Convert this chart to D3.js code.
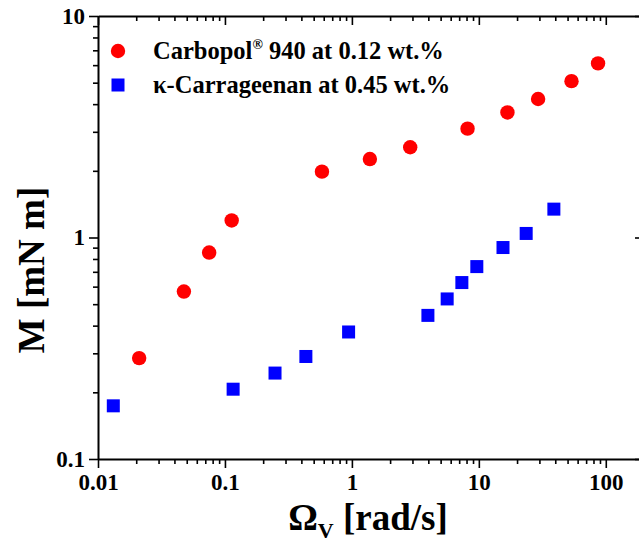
<!DOCTYPE html>
<html>
<head>
<meta charset="utf-8">
<script src="https://cdn.jsdelivr.net/npm/d3@7"></script>
<style>
  html, body { margin: 0; padding: 0; background: #fff; }
  svg { display: block; }
  text { font-family: "Liberation Serif", "Times New Roman", serif; font-weight: bold; fill: #000; }
</style>
</head>
<body>
<svg id="chart" width="639" height="542"></svg>
<script>
// Torque M versus vane angular velocity for two gels
const carbopolOmega = [0.0211, 0.0475, 0.0751, 0.113, 0.581, 1.386, 2.88, 8.15, 16.8, 29.3, 53.7, 86.9];
const carbopolM     = [0.2855, 0.570, 0.855, 1.194, 1.983, 2.26, 2.555, 3.10, 3.67, 4.22, 5.08, 6.11];

const carrageenanOmega = [0.0132, 0.116, 0.248, 0.434, 0.942, 3.97, 5.63, 7.35, 9.64, 15.5, 23.6, 39.0];
const carrageenanM     = [0.1738, 0.2066, 0.2443, 0.2903, 0.3745, 0.445, 0.528, 0.626, 0.739, 0.901, 1.043, 1.343];

const xTickValues = [0.01, 0.1, 1, 10, 100];
const xTickLabels = ["0.01", "0.1", "1", "10", "100"];
const yTickValues = [0.1, 1, 10];
const yTickLabels = ["0.1", "1", "10"];

const legendLabels = ["Carbopol", "κ-Carrageenan at 0.45 wt.%"];

const svg = d3.select("#chart");
const plotLeft = 98, plotTop = 16, plotBottom = 459, plotRight = 644;
const majorLen = 9, minorLen = 5;

const x = d3.scaleLog().domain([0.01, 200]).range([plotLeft, plotRight]);
const y = d3.scaleLog().domain([0.1, 10]).range([plotBottom, plotTop]);

// minor ticks: 2..9 within each decade
function minorTicks(lo, hi) {
  const out = [];
  for (let d = lo; d < hi; d *= 10) {
    for (let k = 2; k <= 9; k++) { const v = d * k; if (v <= hi * 1.0001) out.push(v); }
  }
  return out;
}
const xMinor = minorTicks(0.01, 200);
const yMinor = minorTicks(0.1, 10);

function styleAxis(g) {
  g.selectAll("path.domain").attr("stroke", "#000").attr("stroke-width", 2);
  g.selectAll(".tick line").attr("stroke", "#000").attr("stroke-width", 1.6);
}
function styleLabels(g) {
  g.selectAll(".tick text").attr("font-size", 23).attr("font-family", "Liberation Serif")
    .attr("font-weight", "bold").attr("fill", "#000");
}

// bottom axis (major with labels)
svg.append("g").attr("transform", `translate(0,${plotBottom})`)
  .call(d3.axisBottom(x).tickValues(xTickValues).tickSize(majorLen).tickPadding(6)
    .tickFormat((d, i) => xTickLabels[i]).tickSizeOuter(0))
  .call(styleAxis).call(styleLabels);
svg.append("g").attr("transform", `translate(0,${plotBottom})`)
  .call(d3.axisBottom(x).tickValues(xMinor).tickSize(minorLen).tickFormat("").tickSizeOuter(0))
  .call(g => g.select(".domain").remove()).call(styleAxis);

// top mirror axis (inward ticks)
svg.append("g").attr("transform", `translate(0,${plotTop})`)
  .call(d3.axisBottom(x).tickValues(xTickValues).tickSize(majorLen).tickFormat("").tickSizeOuter(0))
  .call(styleAxis);
svg.append("g").attr("transform", `translate(0,${plotTop})`)
  .call(d3.axisBottom(x).tickValues(xMinor).tickSize(minorLen).tickFormat("").tickSizeOuter(0))
  .call(g => g.select(".domain").remove()).call(styleAxis);

// left axis
svg.append("g").attr("transform", `translate(${plotLeft},0)`)
  .call(d3.axisLeft(y).tickValues(yTickValues).tickSize(majorLen).tickPadding(4)
    .tickFormat((d, i) => yTickLabels[i]).tickSizeOuter(0))
  .call(styleAxis).call(styleLabels);
svg.append("g").attr("transform", `translate(${plotLeft},0)`)
  .call(d3.axisLeft(y).tickValues(yMinor).tickSize(minorLen).tickFormat("").tickSizeOuter(0))
  .call(g => g.select(".domain").remove()).call(styleAxis);

// right mirror axis (inward ticks)
svg.append("g").attr("transform", `translate(${plotRight},0)`)
  .call(d3.axisLeft(y).tickValues(yTickValues).tickSize(majorLen).tickFormat("").tickSizeOuter(0))
  .call(styleAxis);
svg.append("g").attr("transform", `translate(${plotRight},0)`)
  .call(d3.axisLeft(y).tickValues(yMinor).tickSize(minorLen).tickFormat("").tickSizeOuter(0))
  .call(g => g.select(".domain").remove()).call(styleAxis);

// data: Carbopol (red circles)
svg.append("g").selectAll("circle")
  .data(carbopolOmega.map((o, i) => [o, carbopolM[i]]))
  .join("circle")
  .attr("cx", d => x(d[0])).attr("cy", d => y(d[1]))
  .attr("r", 7.2).attr("fill", "#ff0000");

// data: kappa-carrageenan (blue squares)
const sq = 13;
svg.append("g").selectAll("rect")
  .data(carrageenanOmega.map((o, i) => [o, carrageenanM[i]]))
  .join("rect")
  .attr("x", d => x(d[0]) - sq / 2).attr("y", d => y(d[1]) - sq / 2)
  .attr("width", sq).attr("height", sq).attr("fill", "#0000ff");

// legend
const lg = svg.append("g");
lg.append("circle").attr("cx", 118).attr("cy", 51).attr("r", 7.2).attr("fill", "#ff0000");
lg.append("rect").attr("x", 118 - sq / 2).attr("y", 85 - sq / 2).attr("width", sq).attr("height", sq).attr("fill", "#0000ff");
const t1 = lg.append("text").attr("x", 153).attr("y", 59).attr("font-size", 24.5);
t1.append("tspan").text(legendLabels[0]);
t1.append("tspan").attr("font-size", 14).attr("dy", -10).text("®");
t1.append("tspan").attr("dy", 10).text(" 940 at 0.12 wt.%");
lg.append("text").attr("x", 153).attr("y", 93).attr("font-size", 24.5).text(legendLabels[1]);

// axis titles
const xt = svg.append("text").attr("x", 368).attr("y", 530).attr("text-anchor", "middle").attr("font-size", 37);
xt.append("tspan").text("Ω");
xt.append("tspan").attr("font-size", 22).attr("dy", 8).text("V");
xt.append("tspan").attr("dy", -8).text(" [rad/s]");

svg.append("text")
  .attr("transform", "translate(44,270) rotate(-90)")
  .attr("text-anchor", "middle").attr("font-size", 37)
  .text("M [mN m]");
</script>
</body>
</html>
